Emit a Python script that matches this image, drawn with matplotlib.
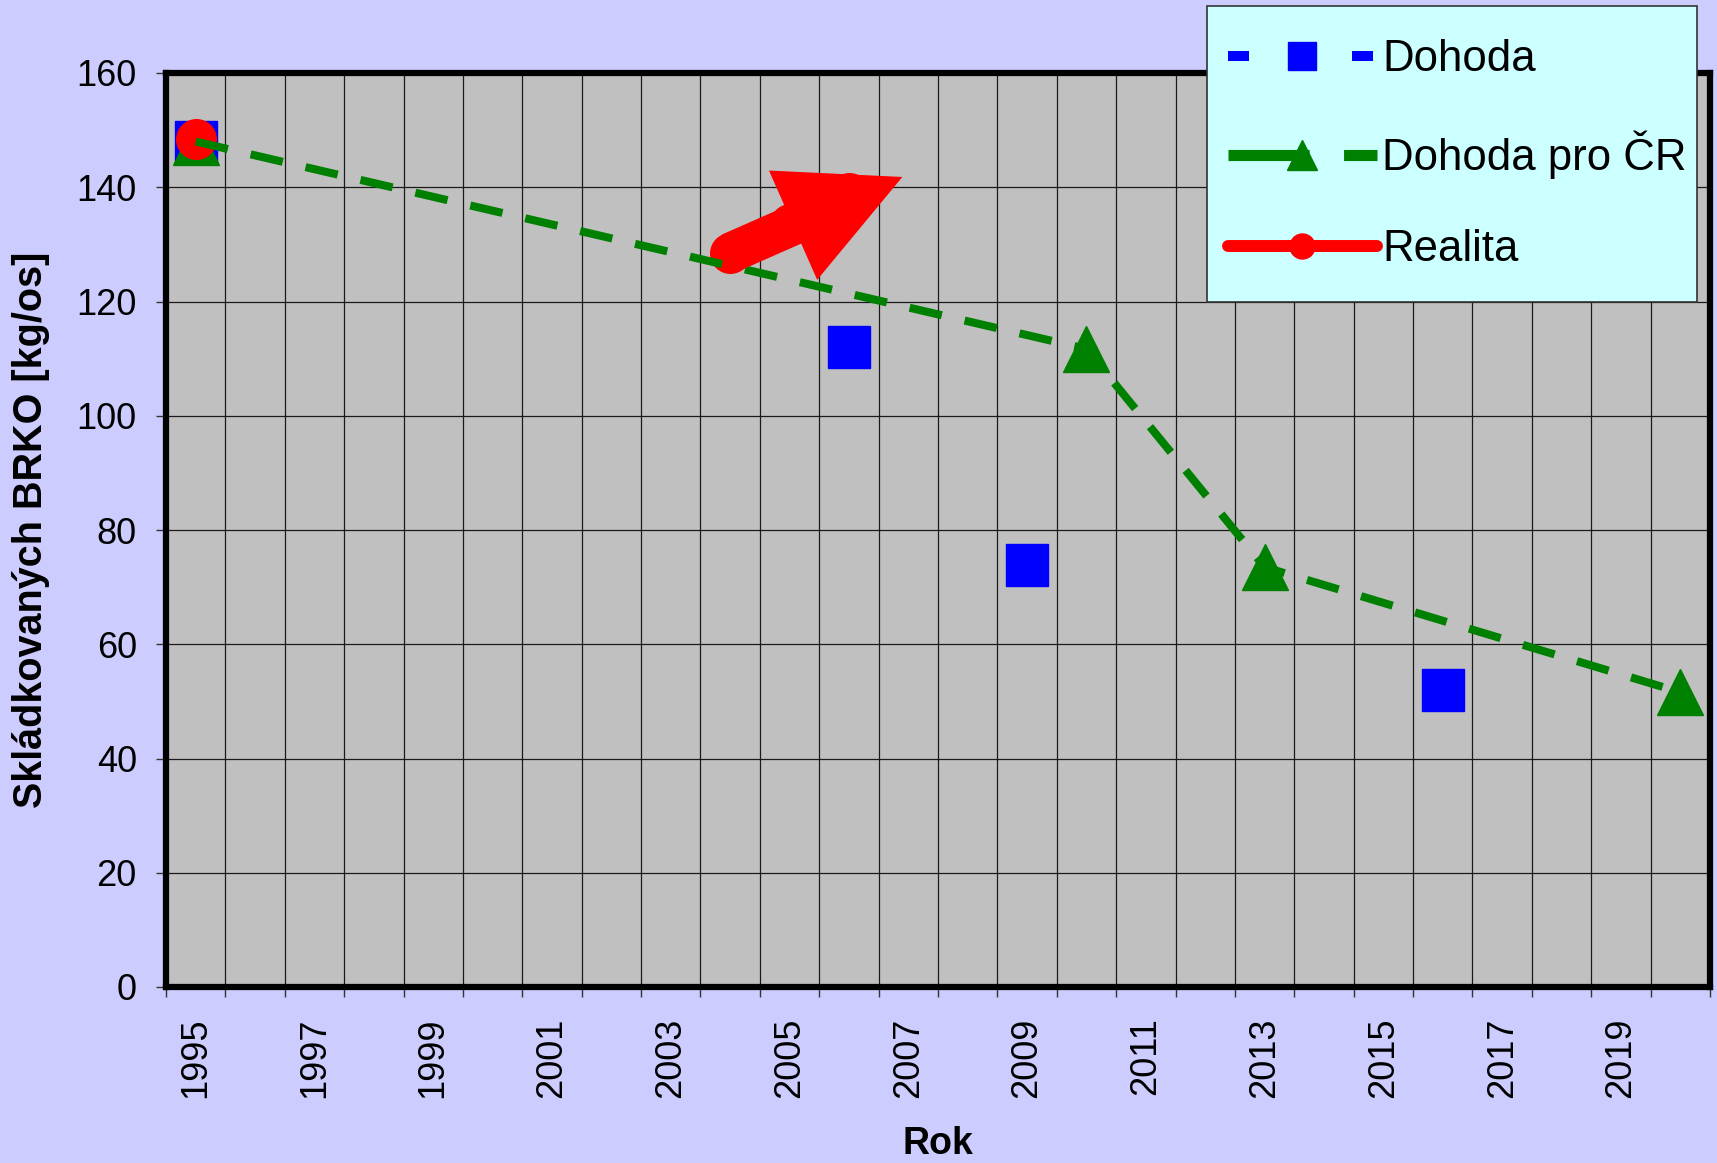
import matplotlib
matplotlib.use("Agg")
import matplotlib.pyplot as plt
import numpy as np
from matplotlib.lines import Line2D
from matplotlib.patches import FancyArrowPatch, ArrowStyle, Rectangle

plt.rcParams["font.family"] = ["Liberation Sans", "DejaVu Sans"]

# data, None = no value that year
years = list(range(1995, 2021))
dohoda = [148, None, None, None, None, None, None, None, None, None, None, 112, None,
          None, 73.9, None, None, None, None, None, None, 52, None, None, None, None]
dohoda_cr = [148, None, None, None, None, None, None, None, None, None, None, None, None,
             None, None, 111.7, None, None, 73.5, None, None, None, None, None, None, 51.6]
realita = [148.5, None, None, None, None, None, None, None, None, 128.5, 133.5, 139, None,
           None, None, None, None, None, None, None, None, None, None, None, None, None]
labels = ["Dohoda", "Dohoda pro ČR", "Realita"]
# hand-drawn trend arrow: starts on the 2004 Realita point, ends here
arrow_tip = (2006.9, 141.8)

x = np.array(years, dtype=float)
y_dohoda = np.array([np.nan if v is None else v for v in dohoda])
y_realita = np.array([np.nan if v is None else v for v in realita])
cr_x = [yr for yr, v in zip(years, dohoda_cr) if v is not None]
cr_y = [v for v in dohoda_cr if v is not None]

W, H = 1717, 1163
fig = plt.figure(figsize=(W / 100, H / 100), dpi=100, facecolor="#CCCCFF")
ax = fig.add_axes([166 / W, 1 - 987 / H, 1544 / W, 914 / H])
ax.set_facecolor("#C0C0C0")

# Dohoda: dashed style, but gaps are not connected -> markers only
ax.plot(x, y_dohoda, color="blue", lw=7, ls=(0, (2.1, 10.3)), marker="s",
        markersize=30, zorder=3)
# Dohoda pro CR markers
ax.plot(cr_x, cr_y, ls="none", marker="^", color="#008000", markersize=33, zorder=4)
# Realita
ax.plot(x, y_realita, color="red", lw=8.6, marker="o", markersize=28.5,
        solid_capstyle="round", zorder=5)
# Dohoda pro CR line on top
ax.plot(cr_x, cr_y, color="#008000", lw=5.8, ls=(0, (4.1, 2.9)), zorder=6)

# big red arrow
start = (2004, realita[years.index(2004)])
arrow = FancyArrowPatch(start, arrow_tip, shrinkA=0, shrinkB=0, mutation_scale=1,
                        arrowstyle=ArrowStyle.Simple(head_length=86, head_width=86, tail_width=29),
                        color="red", lw=0, zorder=7)
ax.add_patch(arrow)

ax.set_xlim(years[0] - 0.5, years[-1] + 0.5)
ax.set_ylim(0, 160)
ax.set_yticks(range(0, 161, 20))

bounds = np.arange(years[0] - 0.5, years[-1] + 1.0, 1.0)
ax.set_xticks(bounds)
ax.set_xticklabels([])
ax.set_xticks(years[::2], labels=[str(v) for v in years[::2]], minor=True)
ax.tick_params(axis="x", which="major", length=7, width=1, color="#333333", direction="out")
ax.tick_params(axis="x", which="minor", length=0, pad=22, labelsize=26, labelrotation=90)
ax.tick_params(axis="y", length=7, width=1, color="#333333", pad=14, labelsize=26)

ax.grid(True, which="major", color="#1a1a1a", lw=0.9)
ax.set_axisbelow(True)
for s in ax.spines.values():
    s.set_linewidth(4.5)
    s.set_color("black")

ax.set_ylabel("Skládkovaných BRKO [kg/os]", fontsize=28.5, fontweight="bold")
ax.yaxis.set_label_coords(-0.0874, 0.5)
ax.yaxis.label.set_va("center")
ax.set_xlabel("Rok", fontsize=27, fontweight="bold")
ax.xaxis.set_label_coords(0.5, -0.1718)
ax.xaxis.label.set_va("center")

# legend box (sticks out over the plot area and the top edge)
box = Rectangle((1207 / W, 1 - 302 / H), 490 / W, 296 / H, transform=fig.transFigure,
                facecolor="#CCFFFF", edgecolor="#333333", lw=1.2, zorder=5)
fig.add_artist(box)

handles = [
    Line2D([], [], color="blue", lw=7.2, ls=(0, (2.1, 10.3)), marker="s", markersize=20),
    Line2D([], [], color="#008000", lw=8, ls=(0, (7.3, 3.1)), marker="^", markersize=22),
    Line2D([], [], color="red", lw=8.6, marker="o", markersize=18, solid_capstyle="round"),
]
leg = fig.legend(handles, labels, loc="upper left", bbox_to_anchor=(1228 / W, 1 - 39 / H),
                 bbox_transform=fig.transFigure, borderaxespad=0, fontsize=31.5, numpoints=1,
                 handlelength=3.4, handletextpad=0.12, labelspacing=1.15, borderpad=0,
                 frameon=False)
leg.set_zorder(10)

fig.savefig("out.png", dpi=100, facecolor=fig.get_facecolor())
